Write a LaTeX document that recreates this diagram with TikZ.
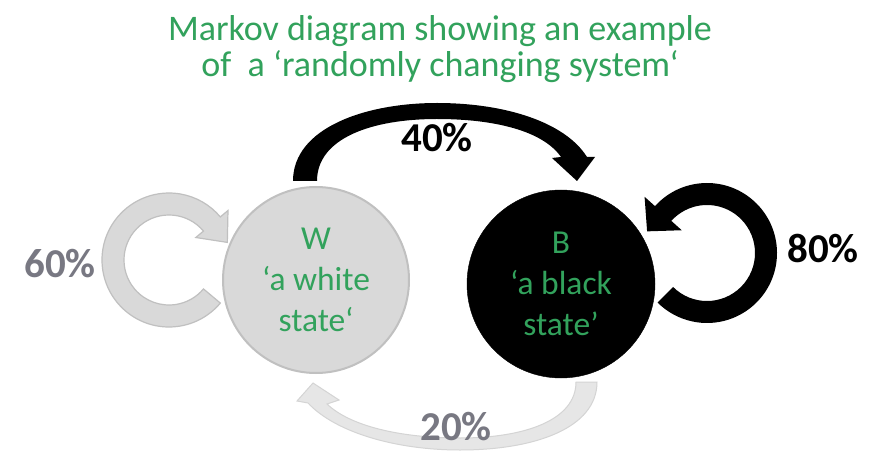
\documentclass[tikz,border=0pt]{standalone}
\usepackage{fontspec}
\setmainfont{Carlito}
\usetikzlibrary{calc}
\definecolor{tgreen}{RGB}{50,162,92}
\definecolor{lgray}{RGB}{217,217,217}
\definecolor{lgrayedge}{RGB}{192,192,192}
\definecolor{vlgray}{RGB}{230,230,230}
\definecolor{vlgrayedge}{RGB}{212,212,212}
\definecolor{labgray}{RGB}{120,120,130}
\begin{document}
\begin{tikzpicture}[x=1pt,y=-1pt,
  statenode/.style={circle, inner sep=0pt, align=center, text=tgreen,
    font=\fontsize{33.5}{41}\selectfont},
  lab/.style={anchor=base, inner sep=0pt, font=\fontsize{41}{41}\selectfont\bfseries},
  titletext/.style={anchor=base, inner sep=0pt, text=tgreen, font=\fontsize{36}{36}\selectfont}]
\useasboundingbox (0,0) rectangle (875,462);
\fill[white] (0,0) rectangle (875,462);

% title
\node[titletext] (t1) at (440,41) {Markov diagram showing an example};
\node[titletext] (t2) at (440,77) {of\ \ a ‘randomly changing system‘};

% states
\node[statenode, minimum size=186pt, fill=lgray, draw=lgrayedge, line width=2pt] (W) at (316,280) {W\\‘a white\\state‘};
\node[statenode, minimum size=188pt, fill=black, draw=black] (B) at (561,284) {B\\‘a black\\state’};

% 40% arrow W -> B
\fill[black] (293,181) .. controls (293,128) and (365,103) .. (437,103)
  .. controls (505,103) and (565,122) .. (587,157) -- (595,157) -- (577,181)
  -- (552,158) -- (561,157) .. controls (543,131) and (495,119) .. (437,119)
  .. controls (372,119) and (317,138) .. (317,181) -- cycle;

% 20% arrow B -> W
\filldraw[fill=vlgray, draw=vlgrayedge, line width=1pt] (597,382) .. controls (597,428) and (535,450) .. (460,450)
  .. controls (395,450) and (335,432) .. (308,403) -- (297,401) -- (313,383)
  -- (339,400) -- (327,404) .. controls (350,426) and (400,438) .. (460,438)
  .. controls (525,438) and (576,420) .. (576,382) -- cycle;

% 60% loop on W
\coordinate (C1) at (169,260);
\filldraw[fill=lgray, draw=lgrayedge, line width=1.2pt]
  ($(C1)+(40:67)$) arc[start angle=40, end angle=320, radius=67]
  -- ($(C1)+(320:77)$) -- ($(C1)+(320:56)+(50:24)$) -- ($(C1)+(320:35)$)
  -- ($(C1)+(320:45)$) arc[start angle=320, end angle=40, radius=45] -- cycle;

% 80% loop on B
\coordinate (C2) at (707,253);
\fill[black]
  ($(C2)+(-138:70)$) arc[start angle=-138, end angle=135, radius=70]
  -- ($(C2)+(135:48)$) arc[start angle=135, end angle=-138, radius=48]
  -- ($(C2)+(-138:34)$) -- ($(C2)+(-138:59)+(132:24)$) -- ($(C2)+(-138:84)$) -- cycle;

% labels
\node[lab, text=black] (l40) at (437,152) {40\%};
\node[lab, text=black] (l80) at (823,262) {80\%};
\node[lab, text=labgray] (l60) at (60,278) {60\%};
\node[lab, text=labgray] (l20) at (456,440) {20\%};
\end{tikzpicture}
\end{document}
